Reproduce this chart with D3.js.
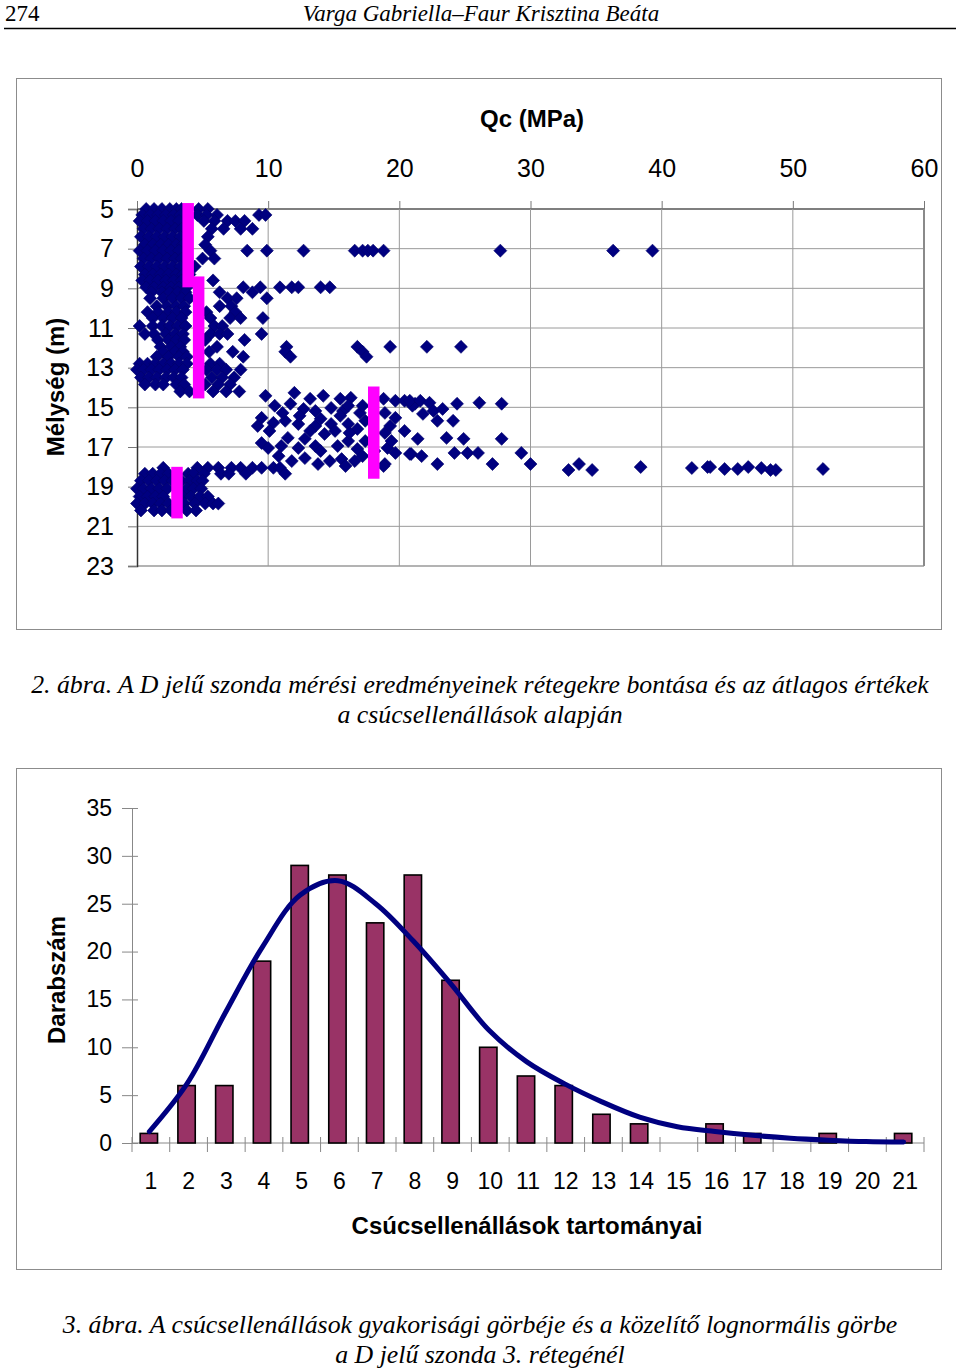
<!DOCTYPE html>
<html><head><meta charset="utf-8">
<script src="https://cdn.jsdelivr.net/npm/d3@7"></script>
<style>body{margin:0;background:#fff}svg{display:block}</style>
</head><body>
<script>
// ---------- Figure 2: scatter (Qc vs depth) ----------
const qcTicks = [0, 10, 20, 30, 40, 50, 60];
const depthTicks = [5, 7, 9, 11, 13, 15, 17, 19, 21, 23];

// rows: [depth, qc, qc, ...]
const upperRows = [
  [5.0, 0.7, 1.3, 1.9, 2.5, 3.0, 3.4, 4.7, 5.4],
  [5.3, 0.4, 1.0, 1.6, 2.2, 2.8, 3.3, 4.6, 5.3, 6.1, 9.3, 9.8],
  [5.6, 0.2, 0.8, 1.4, 2.0, 2.6, 3.2, 5.1, 5.9, 6.9, 7.5, 8.2],
  [6.0, 0.5, 1.1, 1.7, 2.3, 2.9, 3.4, 5.7, 6.6, 7.9, 8.8],
  [6.4, 0.3, 0.9, 1.5, 2.1, 2.7, 3.3, 5.4],
  [6.8, 0.6, 1.2, 1.8, 2.4, 3.0, 3.5, 5.2],
  [7.1, 0.2, 0.8, 1.4, 2.0, 2.6, 3.2, 5.6, 8.4, 9.9, 12.7, 16.6, 17.2, 17.6, 18.0, 18.8, 27.7, 36.3, 39.3],
  [7.5, 0.5, 1.1, 1.7, 2.3, 2.9, 3.4, 5.0, 5.9],
  [7.9, 0.3, 0.9, 1.5, 2.1, 2.7, 3.3, 4.4],
  [8.3, 0.6, 1.2, 1.8, 2.4, 3.0, 3.5, 4.0],
  [8.6, 0.4, 1.0, 1.6, 2.2, 2.8, 3.4, 5.8],
  [8.95, 0.7, 1.3, 2.0, 2.6, 3.2, 3.8, 8.1, 9.4, 10.9, 11.8, 12.3, 14.0, 14.7],
  [9.2, 1.1, 1.9, 2.5, 3.1, 3.7, 6.3, 8.8],
  [9.5, 1.0, 2.0, 2.7, 3.4, 4.0, 6.9, 7.6, 9.9],
  [9.9, 1.5, 2.3, 3.0, 3.6, 6.3, 7.2],
  [10.2, 0.8, 1.6, 2.4, 3.0, 3.7, 5.3, 7.5],
  [10.5, 1.2, 2.0, 2.7, 3.4, 5.6, 7.1, 7.9, 9.6],
  [10.9, 0.2, 1.2, 1.9, 2.5, 3.1, 3.7, 5.9, 6.5],
  [11.3, 0.6, 1.3, 2.2, 2.9, 3.5, 5.6, 6.3, 6.9, 9.5],
  [11.6, 1.6, 2.4, 3.0, 3.6, 5.2, 8.2],
  [11.95, 1.8, 2.6, 3.3, 6.1, 11.4, 16.8, 19.3, 22.1, 24.7],
  [12.2, 2.0, 2.9, 3.5, 5.5, 7.3, 11.3, 17.2],
  [12.45, 1.5, 2.4, 3.2, 3.8, 8.1, 11.7, 17.5],
  [12.8, 0.2, 0.8, 1.4, 2.0, 2.6, 3.2, 3.8, 5.6, 6.3],
  [13.1, 0.0, 0.5, 1.1, 1.7, 2.3, 2.9, 3.5, 5.3, 6.1, 6.8, 7.9],
  [13.5, 0.3, 0.9, 1.5, 2.2, 2.8, 3.4, 5.7, 6.5, 7.4],
  [13.85, 0.6, 1.4, 2.0, 3.0, 3.6, 5.2, 6.2, 7.1],
  [14.2, 3.3, 4.0, 5.8, 6.8, 7.8]
];

const lowerRows = [
  [18.05, 2.0, 4.6, 5.4, 6.2, 7.2, 7.9, 8.8, 9.5, 10.4, 10.9],
  [18.35, 0.6, 1.2, 1.8, 2.4, 3.0, 3.9, 4.3, 5.1, 6.4, 7.0, 8.3, 11.3],
  [18.7, 0.3, 0.9, 1.5, 2.1, 2.7, 3.4, 4.0, 4.6, 5.0],
  [19.1, 0.0, 0.5, 1.1, 1.7, 2.3, 3.8, 4.3, 4.9],
  [19.5, 0.2, 0.8, 1.4, 2.0, 3.5, 4.1, 4.8, 5.4],
  [19.85, 0.0, 0.6, 1.2, 1.8, 2.4, 3.6, 4.4, 5.2, 5.8, 6.2],
  [20.2, 0.3, 1.3, 1.9, 2.6, 3.8, 4.5]
];

// [qc, depth]
const middlePoints = [
  [9.8,14.42],[12.0,14.27],[13.2,14.57],[14.2,14.42],[16.3,14.52],[11.7,14.82],[9.5,15.53],[10.4,15.78],
  [12.7,15.08],[13.6,15.18],[14.8,15.03],[15.7,15.18],[16.1,14.92],[19.7,14.67],[20.4,14.67],[21.2,14.82],
  [18.9,15.28],[19.7,15.53],[11.3,15.68],[12.3,15.84],[13.6,15.94],[14.8,15.84],[16.1,15.84],[16.8,16.09],
  [14.3,16.34],[15.1,16.19],[11.5,16.54],[12.8,16.59],[9.5,16.8],[10.0,17.05],[11.0,16.95],[12.3,17.05],
  [13.6,16.95],[15.3,16.95],[16.1,16.7],[16.8,17.1],[12.8,17.56],[14.7,17.71],[15.6,17.61],[16.6,17.71],
  [18.9,16.29],[19.1,17.05],[19.7,17.3],[18.9,17.86],[20.9,17.35],[21.0,14.92],
  [18.8,14.57],[20.8,14.67],[21.6,14.67],[22.3,14.77],[21.8,15.33],[22.6,15.18],[23.3,15.08],[24.4,14.82],
  [26.1,14.77],[27.8,14.82],[22.9,15.68],[24.1,15.68],[21.4,16.59],[23.6,16.54],[24.9,16.59],[27.8,16.59],
  [20.8,17.35],[21.7,17.46],[22.9,17.86],[24.2,17.3],[25.2,17.3],[26.0,17.3],[27.1,17.86],[29.3,17.3],
  [30.0,17.86],[18.8,17.96],
  [32.9,18.16],[33.7,17.86],[34.7,18.16],[38.4,18.01],[42.3,18.06],[43.5,18.01],[43.7,18.01],[44.8,18.11],
  [45.8,18.11],[46.6,18.01],[47.6,18.06],[48.3,18.16],[48.7,18.16],[52.3,18.11],
  [10.5,14.92],[11.1,15.28],[12.4,15.43],[14.0,15.58],[15.5,15.43],[17.0,15.28],[17.4,15.68],[10.1,16.19],
  [13.2,16.19],[16.2,16.29],[17.4,16.7],[10.8,17.46],[14.0,17.2],[11.8,17.71],[17.2,14.92],[17.2,17.46],
  [15.5,14.57],[9.2,15.94],[15.9,17.96],[13.8,17.86],[19.3,15.94],[19.4,16.7],[20.4,16.19],[18.1,17.2]
];

// layer averages: mean qc and depth range of each layer
const layerMeanQc = [3.9, 4.7, 18.05, 3.05];
const layerTop = [4.7, 8.4, 13.95, 18.0];
const layerBottom = [8.95, 14.55, 18.6, 20.6];

// ---------- Figure 3: histogram ----------
const categories = d3.range(1, 22).map(String);
const counts = [1, 6, 6, 19, 29, 28, 23, 28, 17, 10, 7, 6, 3, 2, 0, 2, 1, 0, 1, 0, 1];
const lognormalFit = [1.2, 6.2, 13.5, 20.5, 25.9, 27.4, 25.0, 21.1, 16.6, 11.8, 8.5, 6.2, 4.3, 2.7, 1.7, 1.2, 0.8, 0.5, 0.3, 0.15, 0.1];
const countTicks = [0, 5, 10, 15, 20, 25, 30, 35];

// ---------- drawing ----------
const W = 960, H = 1371;
const svg = d3.select("body").append("svg").attr("width", W).attr("height", H)
  .style("font-family", "'Liberation Sans', Arial, sans-serif");
const serif = "'Liberation Serif', 'Times New Roman', serif";
const capSize = 25.8;

// header
svg.append("text").attr("x", 5).attr("y", 21).attr("font-family", serif)
  .attr("font-size", 23).text("274");
svg.append("text").attr("x", 481).attr("y", 21).attr("text-anchor", "middle")
  .attr("font-family", serif).attr("font-style", "italic").attr("font-size", 23)
  .text("Varga Gabriella–Faur Krisztina Beáta");
svg.append("line").attr("x1", 4).attr("x2", 956).attr("y1", 28.5).attr("y2", 28.5)
  .attr("stroke", "#000").attr("stroke-width", 1.6);

// ----- scatter -----
svg.append("rect").attr("x", 16.5).attr("y", 78.5).attr("width", 925).attr("height", 551)
  .attr("fill", "none").attr("stroke", "#8c8c8c").attr("stroke-width", 1);

const x = d3.scaleLinear().domain([0, 60]).range([137, 924]);
const y = d3.scaleLinear().domain([5, 23]).range([209, 566]);

const g1 = svg.append("g");
g1.selectAll(".hg").data(depthTicks).join("line")
  .attr("x1", x(0)).attr("x2", x(60)).attr("y1", d => y(d)).attr("y2", d => y(d))
  .attr("stroke", d => (d === 5 ? "#555" : "#9a9a9a")).attr("stroke-width", d => (d === 5 || d === 23 ? 1.5 : 1));
g1.selectAll(".vg").data(qcTicks.slice(1)).join("line")
  .attr("x1", d => x(d)).attr("x2", d => x(d)).attr("y1", y(5)).attr("y2", y(23))
  .attr("stroke", d => (d === 60 ? "#8a8a8a" : "#9a9a9a")).attr("stroke-width", d => (d === 60 ? 2 : 1));

const axTop = g1.append("g").attr("transform", `translate(0,${y(5)})`)
  .call(d3.axisTop(x).tickValues(qcTicks).tickSize(8).tickPadding(24));
axTop.select(".domain").remove();
axTop.selectAll("line").attr("stroke", "#777");
axTop.selectAll("text").attr("font-size", 25).attr("fill", "#000")
  .attr("font-family", "'Liberation Sans', Arial, sans-serif");

const axLeft = g1.append("g").attr("transform", `translate(${x(0)},0)`)
  .call(d3.axisLeft(y).tickValues(depthTicks).tickSize(9).tickPadding(14));
axLeft.select(".domain").attr("stroke", "#333").attr("stroke-width", 1.5);
axLeft.selectAll("line").attr("stroke", "#777");
axLeft.selectAll("text").attr("font-size", 25).attr("fill", "#000")
  .attr("font-family", "'Liberation Sans', Arial, sans-serif");

const allPoints = [
  ...upperRows.flatMap(([d, ...qs]) => qs.map(q => [q, d])),
  ...middlePoints,
  ...lowerRows.flatMap(([d, ...qs]) => qs.map(q => [q, d]))
];
const diamond = d3.symbol(d3.symbolSquare, 84)();
g1.append("g").selectAll("path").data(allPoints).join("path")
  .attr("d", diamond)
  .attr("transform", d => `translate(${x(d[0])},${y(d[1])}) rotate(45)`)
  .attr("fill", "#000080").attr("stroke", "#00006a").attr("stroke-width", 0.6);

g1.append("g").selectAll("rect").data(layerMeanQc).join("rect")
  .attr("x", d => x(d) - 5.75).attr("width", 11.5)
  .attr("y", (d, i) => y(layerTop[i])).attr("height", (d, i) => y(layerBottom[i]) - y(layerTop[i]))
  .attr("fill", "#ff00ff");

svg.append("text").attr("x", 532).attr("y", 127).attr("text-anchor", "middle")
  .attr("font-weight", "bold").attr("font-size", 24).text("Qc (MPa)");
svg.append("text").attr("transform", "translate(64,387) rotate(-90)").attr("text-anchor", "middle")
  .attr("font-weight", "bold").attr("font-size", 24).text("Mélység (m)");

svg.append("text").attr("x", 480).attr("y", 693).attr("text-anchor", "middle")
  .attr("font-family", serif).attr("font-style", "italic").attr("font-size", capSize)
  .text("2. ábra. A D jelű szonda mérési eredményeinek rétegekre bontása és az átlagos értékek");
svg.append("text").attr("x", 480).attr("y", 723).attr("text-anchor", "middle")
  .attr("font-family", serif).attr("font-style", "italic").attr("font-size", capSize)
  .text("a csúcsellenállások alapján");

// ----- histogram -----
svg.append("rect").attr("x", 16.5).attr("y", 768.5).attr("width", 925).attr("height", 501)
  .attr("fill", "none").attr("stroke", "#8c8c8c").attr("stroke-width", 1);

const xb = d3.scaleBand().domain(categories).range([132, 924]);
const xbBar = d3.scaleBand().domain(categories).range([130, 922]).paddingInner(0.54).paddingOuter(0.27);
const yb = d3.scaleLinear().domain([0, 35]).range([1143, 808]);
const g2 = svg.append("g");

const ayb = g2.append("g").attr("transform", `translate(${xb.range()[0]},0)`)
  .call(d3.axisLeft(yb).tickValues(countTicks).tickSize(10).tickPadding(10));
ayb.select(".domain").attr("stroke", "#888").attr("d", `M0.5,${yb(35)}V${yb(0)}`);
ayb.selectAll(".tick line").attr("stroke", "#888").attr("x1", 6);
ayb.selectAll("text").attr("font-size", 23).attr("fill", "#000")
  .attr("font-family", "'Liberation Sans', Arial, sans-serif");

g2.append("line").attr("x1", xb.range()[0]).attr("x2", xb.range()[1])
  .attr("y1", yb(0)).attr("y2", yb(0)).attr("stroke", "#888");
const boundaries = categories.map(c => xb(c)).concat([xb.range()[1]]);
g2.selectAll(".xt").data(boundaries).join("line")
  .attr("x1", d => d).attr("x2", d => d).attr("y1", yb(0) - 6).attr("y2", yb(0) + 9)
  .attr("stroke", "#888");
g2.selectAll(".xl").data(categories).join("text")
  .attr("x", d => xb(d) + xb.bandwidth() / 2).attr("y", 1189).attr("text-anchor", "middle")
  .attr("font-size", 23).text(d => d);

g2.append("g").selectAll("rect").data(counts).join("rect")
  .attr("x", (d, i) => xbBar(categories[i])).attr("width", xbBar.bandwidth())
  .attr("y", d => yb(d)).attr("height", d => yb(0) - yb(d))
  .attr("fill", "#993366").attr("stroke", "#000").attr("stroke-width", 1.6)
  .attr("display", d => (d > 0 ? null : "none"));

const line = d3.line()
  .x((d, i) => xb(categories[i]) + xb.bandwidth() / 2 - 1.5)
  .y(d => yb(d))
  .curve(d3.curveCatmullRom.alpha(0.5));
g2.append("path").datum(lognormalFit).attr("d", line)
  .attr("fill", "none").attr("stroke", "#000080").attr("stroke-width", 5)
  .attr("stroke-linecap", "round").attr("stroke-linejoin", "round");

svg.append("text").attr("transform", "translate(65,980) rotate(-90)").attr("text-anchor", "middle")
  .attr("font-weight", "bold").attr("font-size", 24).text("Darabszám");
svg.append("text").attr("x", 527).attr("y", 1234).attr("text-anchor", "middle")
  .attr("font-weight", "bold").attr("font-size", 24).text("Csúcsellenállások tartományai");

svg.append("text").attr("x", 480).attr("y", 1333).attr("text-anchor", "middle")
  .attr("font-family", serif).attr("font-style", "italic").attr("font-size", capSize)
  .text("3. ábra. A csúcsellenállások gyakorisági görbéje és a közelítő lognormális görbe");
svg.append("text").attr("x", 480).attr("y", 1363).attr("text-anchor", "middle")
  .attr("font-family", serif).attr("font-style", "italic").attr("font-size", capSize)
  .text("a D jelű szonda 3. rétegénél");
</script>
</body></html>
